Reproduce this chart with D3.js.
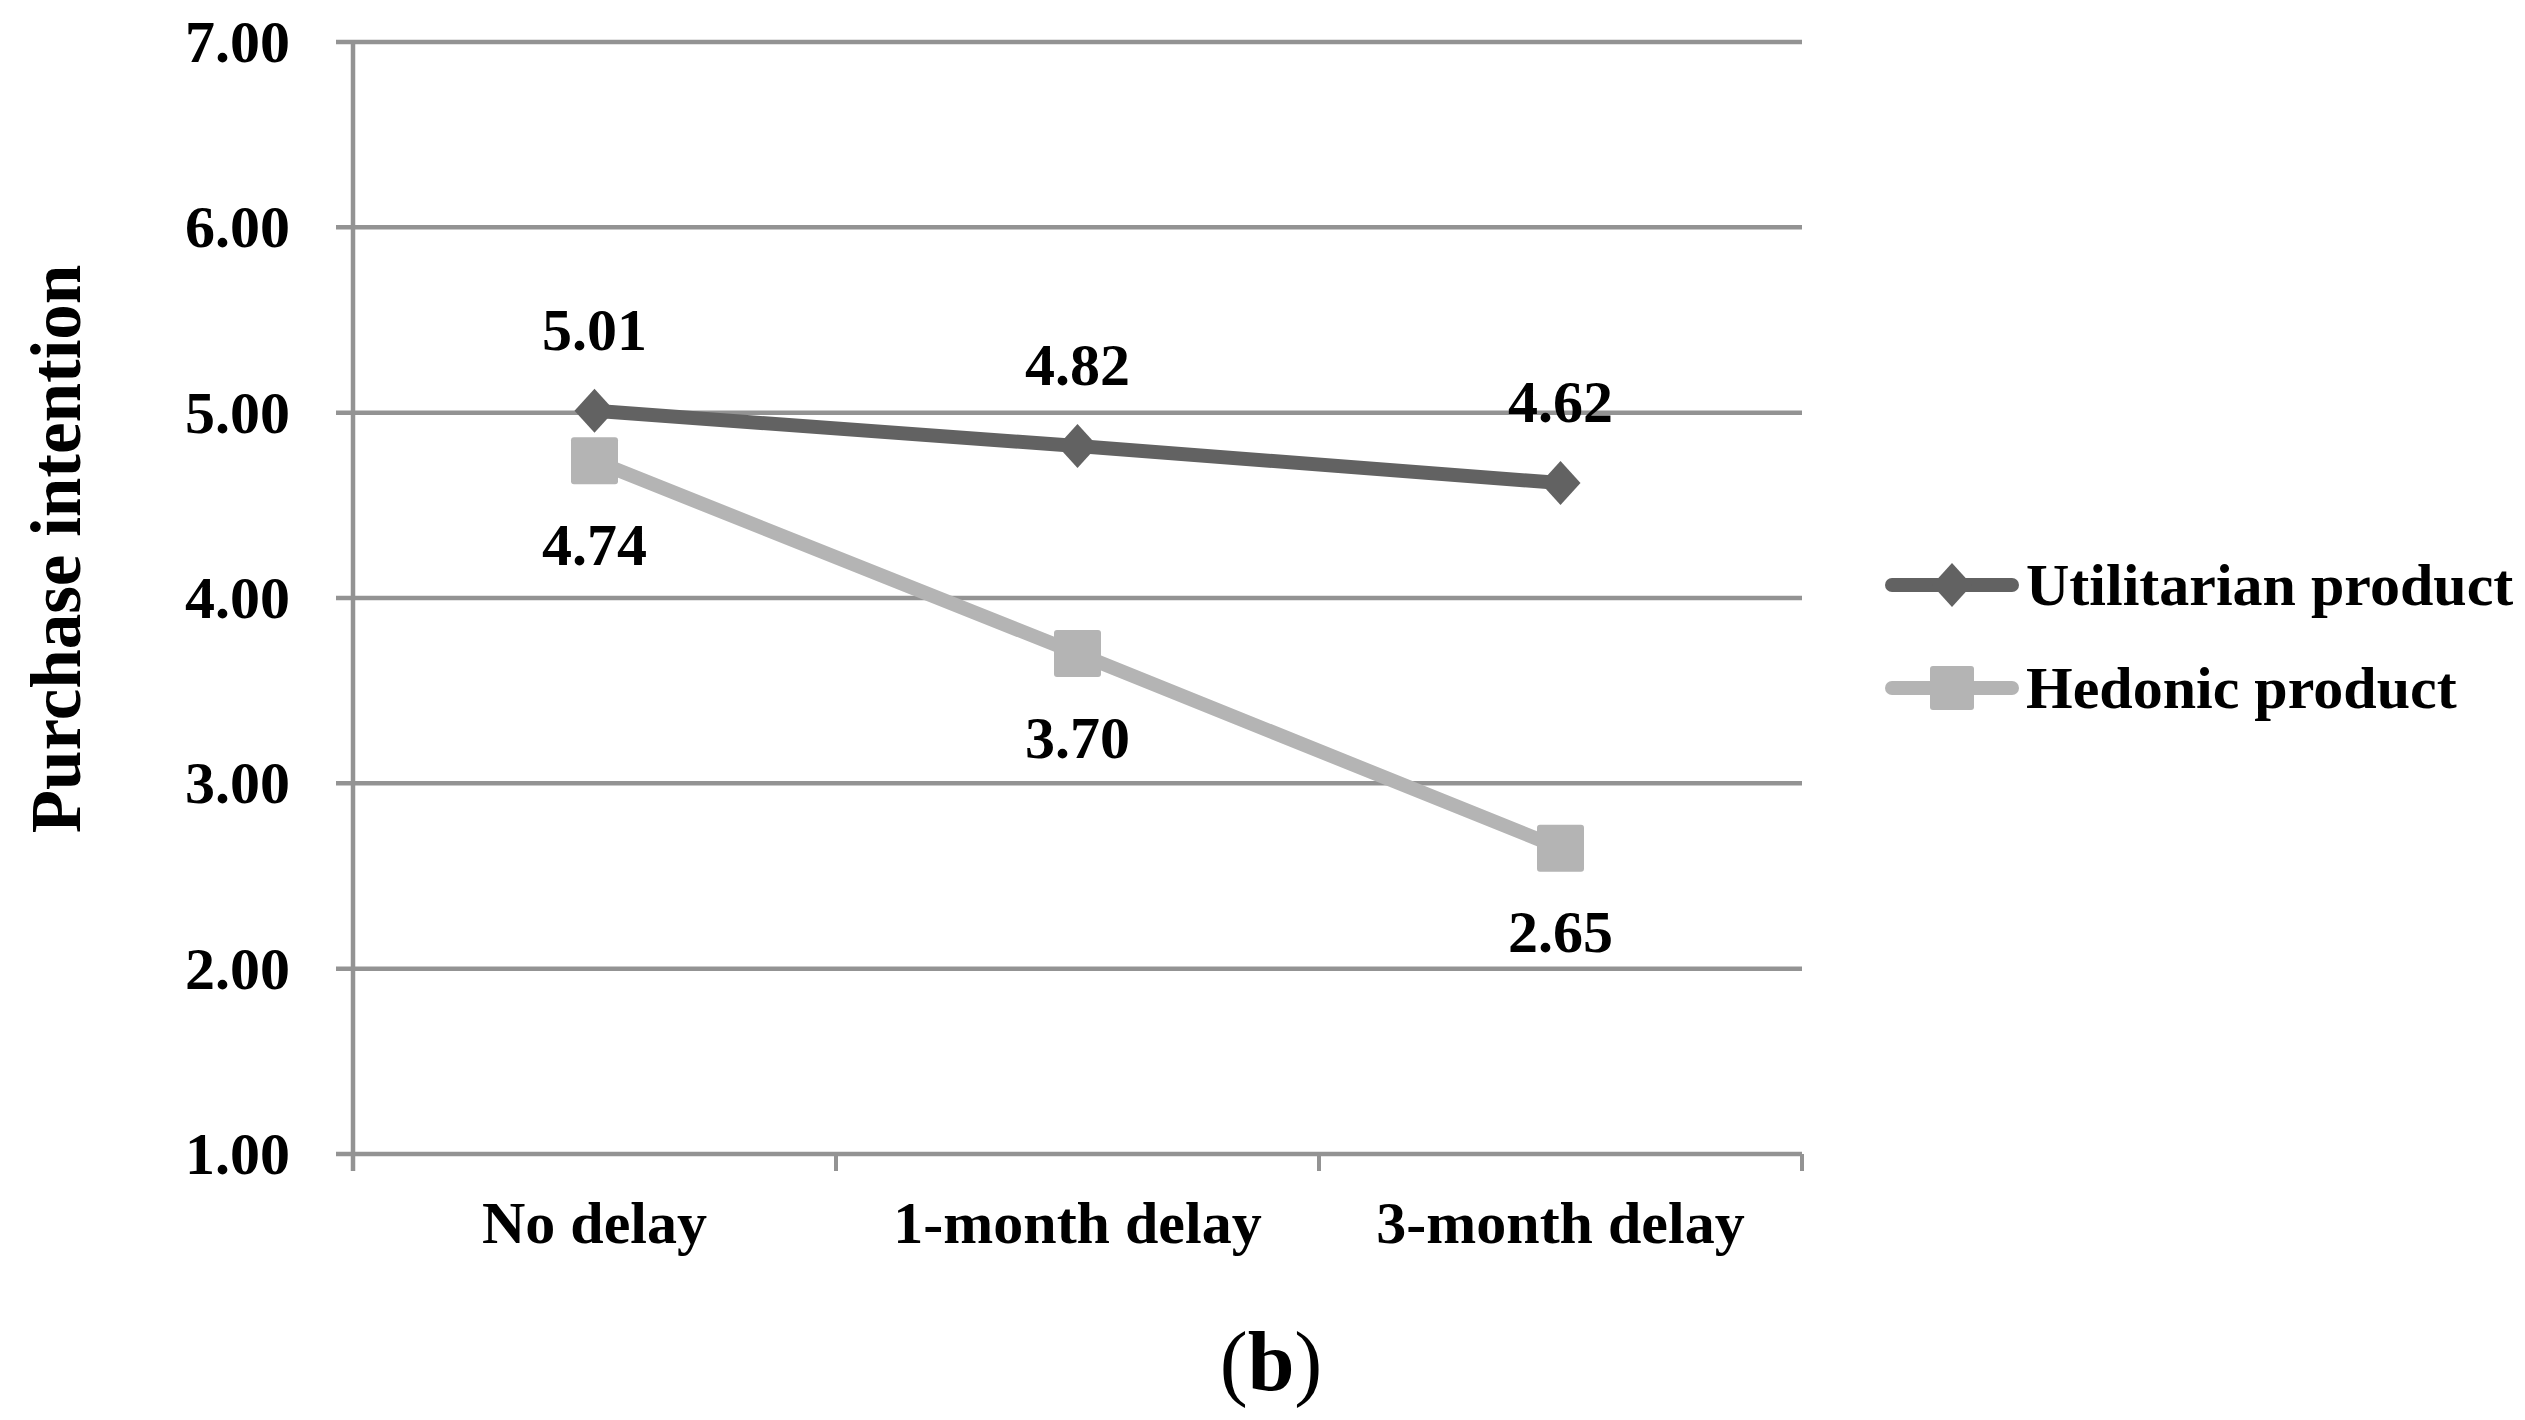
<!DOCTYPE html>
<html>
<head>
<meta charset="utf-8">
<script src="https://cdn.jsdelivr.net/npm/d3@7"></script>
<style>
  html, body { margin: 0; padding: 0; background: #fff; }
  svg text { font-family: "Liberation Serif", "Times New Roman", serif; }
</style>
</head>
<body>
<svg id="chart" width="2525" height="1420"></svg>
<script>
const categories = ["No delay", "1-month delay", "3-month delay"];
const utilitarian = [5.01, 4.82, 4.62];
const hedonic = [4.74, 3.70, 2.65];
const yTicks = [1, 2, 3, 4, 5, 6, 7];
const seriesNames = ["Utilitarian product", "Hedonic product"];
const yTitle = "Purchase intention";
const caption = "b";

const svg = d3.select("#chart");
const plotL = 353, plotR = 1802, plotT = 42, plotB = 1154;

const x = d3.scaleBand().domain(categories).range([plotL, plotR]);
const y = d3.scaleLinear().domain([1, 7]).range([plotB, plotT]);

const gridColor = "#939393";
const darkC = "#626262";
const lightC = "#b4b4b4";

// gridlines
svg.append("g").selectAll("line").data(yTicks).join("line")
  .attr("x1", plotL - 17).attr("x2", plotR)
  .attr("y1", d => y(d)).attr("y2", d => y(d))
  .attr("stroke", gridColor).attr("stroke-width", 4.5);

// y axis line
svg.append("line").attr("x1", plotL).attr("x2", plotL)
  .attr("y1", plotT).attr("y2", plotB + 17)
  .attr("stroke", gridColor).attr("stroke-width", 4.5);

// x axis ticks at band boundaries
const bounds = categories.map(c => x(c)).concat([x(categories[categories.length - 1]) + x.bandwidth()]);
svg.append("g").selectAll("line").data(bounds).join("line")
  .attr("x1", d => d).attr("x2", d => d)
  .attr("y1", plotB).attr("y2", plotB + 17)
  .attr("stroke", gridColor).attr("stroke-width", 4);

// y tick labels
svg.append("g").selectAll("text").data(yTicks).join("text")
  .attr("x", 290).attr("y", d => y(d) + 20)
  .attr("text-anchor", "end").attr("font-size", 60).attr("font-weight", "bold")
  .text(d => d.toFixed(2));

// x labels
svg.append("g").selectAll("text").data(categories).join("text")
  .attr("x", d => x(d) + x.bandwidth() / 2).attr("y", 1243)
  .attr("text-anchor", "middle").attr("font-size", 60).attr("font-weight", "bold")
  .text(d => d);

// y title
svg.append("text")
  .attr("transform", "translate(80,549) rotate(-90)")
  .attr("text-anchor", "middle").attr("font-size", 71).attr("font-weight", "bold")
  .text(yTitle);

const cx = c => x(c) + x.bandwidth() / 2;
const line = d3.line().x((d, i) => cx(categories[i])).y(d => y(d));

function diamondPath(px, py) {
  return `M${px},${py - 22}L${px + 20},${py}L${px},${py + 22}L${px - 20},${py}Z`;
}

// hedonic line
svg.append("path").datum(hedonic).attr("d", line)
  .attr("fill", "none").attr("stroke", lightC).attr("stroke-width", 14)
  .attr("stroke-linecap", "round").attr("stroke-linejoin", "round");
svg.append("g").selectAll("rect").data(hedonic).join("rect")
  .attr("x", (d, i) => cx(categories[i]) - 23.5).attr("y", d => y(d) - 23.5)
  .attr("width", 47).attr("height", 47).attr("rx", 3)
  .attr("fill", lightC);

// utilitarian line
svg.append("path").datum(utilitarian).attr("d", line)
  .attr("fill", "none").attr("stroke", darkC).attr("stroke-width", 14)
  .attr("stroke-linecap", "round").attr("stroke-linejoin", "round");
svg.append("g").selectAll("path").data(utilitarian).join("path")
  .attr("d", (d, i) => diamondPath(cx(categories[i]), y(d)))
  .attr("fill", darkC);

// data labels
svg.append("g").selectAll("text").data(utilitarian).join("text")
  .attr("x", (d, i) => cx(categories[i])).attr("y", d => y(d) - 61)
  .attr("text-anchor", "middle").attr("font-size", 60).attr("font-weight", "bold")
  .text(d => d.toFixed(2));
svg.append("g").selectAll("text").data(hedonic).join("text")
  .attr("x", (d, i) => cx(categories[i])).attr("y", d => y(d) + 104)
  .attr("text-anchor", "middle").attr("font-size", 60).attr("font-weight", "bold")
  .text(d => d.toFixed(2));

// legend
const legY = [585, 688];
const legColors = [darkC, lightC];
seriesNames.forEach((name, i) => {
  const g = svg.append("g");
  g.append("line").attr("x1", 1892).attr("x2", 2012)
    .attr("y1", legY[i]).attr("y2", legY[i])
    .attr("stroke", legColors[i]).attr("stroke-width", 14).attr("stroke-linecap", "round");
  if (i === 0) {
    g.append("path").attr("d", diamondPath(1952, legY[i])).attr("fill", darkC);
  } else {
    g.append("rect").attr("x", 1952 - 22).attr("y", legY[i] - 22)
      .attr("width", 44).attr("height", 44).attr("rx", 3).attr("fill", lightC);
  }
  g.append("text").attr("x", 2026).attr("y", legY[i] + 20)
    .attr("font-size", 60).attr("font-weight", "bold").text(name);
});

// caption
const cap = svg.append("text").attr("x", 1271).attr("y", 1390)
  .attr("text-anchor", "middle").attr("font-size", 84).attr("font-weight", "normal");
cap.append("tspan").attr("font-weight", "normal").text("(");
cap.append("tspan").attr("font-weight", "bold").text(caption);
cap.append("tspan").attr("font-weight", "normal").text(")");
</script>
</body>
</html>
